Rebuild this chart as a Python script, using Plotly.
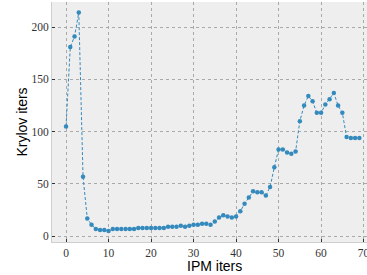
import plotly.graph_objects as go

ipm_iters = list(range(70))
krylov_iters = [105, 181, 191, 214, 57, 17, 11, 7, 6, 6,
                5, 7, 7, 7, 7, 7, 7, 8, 8, 8,
                8, 8, 8, 8, 9, 9, 9, 10, 9, 10,
                11, 11, 12, 12, 11, 14, 18, 20, 19, 18,
                19, 24, 31, 37, 43, 42, 42, 39, 47, 66,
                83, 83, 80, 79, 81, 110, 125, 134, 129, 118,
                118, 126, 131, 137, 125, 118, 95, 94, 94, 94]
x_ticks = [0, 10, 20, 30, 40, 50, 60, 70]
y_ticks = [0, 50, 100, 150, 200]

fig = go.Figure(go.Scatter(
    x=ipm_iters, y=krylov_iters, mode="lines+markers",
    line=dict(color="#348ABD", width=1, dash="3px,2px"),
    marker=dict(color="#348ABD", size=4.5),
))

grid = dict(showgrid=True, gridcolor="#aaaaaa", griddash="dot", gridwidth=1,
            zeroline=False, showline=True, linecolor="#cfcfcf", linewidth=1,
            ticks="inside", ticklen=3, tickcolor="#333333", tickwidth=1,
            automargin=False, ticklabeloverflow="allow",
            tickfont=dict(family="Liberation Serif, serif", size=11.5, color="#333333"))

fig.update_layout(
    width=367, height=275,
    margin=dict(l=52, r=0, t=2, b=33),
    paper_bgcolor="white", plot_bgcolor="#eeeeee",
    showlegend=False,
    xaxis=dict(range=[-3.3, 70.8], tickvals=x_ticks, **grid),
    yaxis=dict(range=[-5.5, 224], tickvals=y_ticks,
               title=dict(text="Krylov iters", standoff=0,
                          font=dict(family="Liberation Sans", size=14, color="black")),
               **grid),
    annotations=[dict(text="IPM iters", xref="paper", yref="paper",
                      x=0.517, y=-0.1, xanchor="center", yanchor="middle",
                      showarrow=False,
                      font=dict(family="Liberation Sans", size=14, color="black"))],
)

fig.write_html("out.html", config={"displayModeBar": False},
               post_script="document.body.style.margin='0';document.body.style.padding='0';")
